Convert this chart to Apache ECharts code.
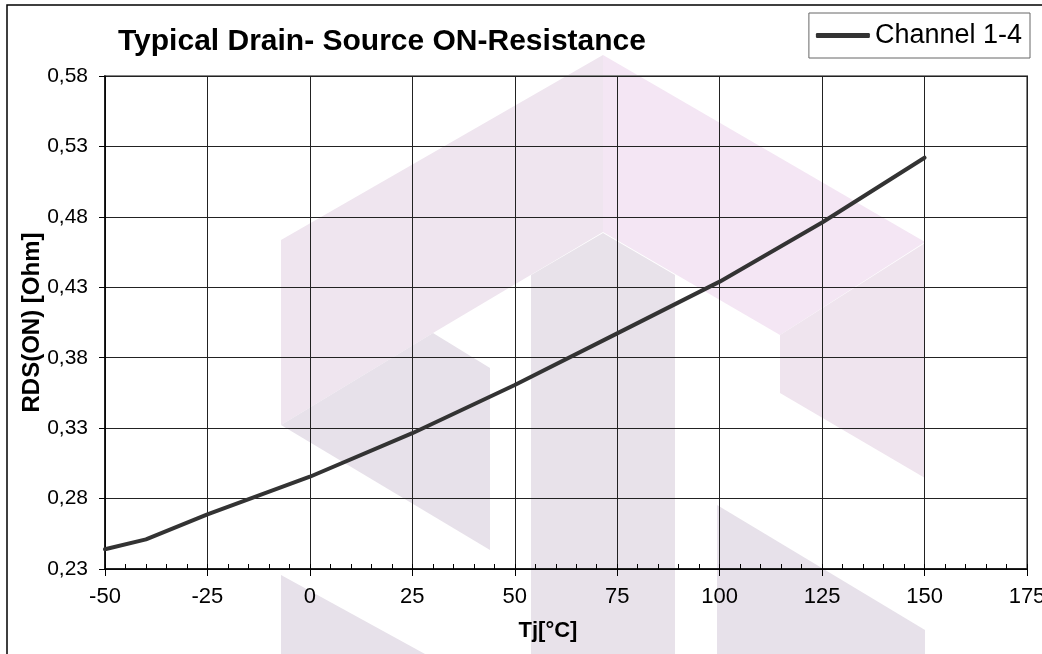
<!DOCTYPE html>
<html>
<head>
<meta charset="utf-8">
<title>Typical Drain- Source ON-Resistance</title>
<script src="https://cdn.jsdelivr.net/npm/echarts@6/dist/echarts.min.js"></script>
<style>
  html, body { margin: 0; padding: 0; background: #fff; }
  #chart { width: 1042px; height: 654px; }
</style>
</head>
<body>
<div id="chart"></div>
<script>
// junction temperature [°C] and on-resistance [Ohm]
var tempC = [-50, -40, -25, 0, 25, 50, 75, 100, 125, 150];
var rdsOn = [0.244, 0.251, 0.2688, 0.2955, 0.3264, 0.3606, 0.3973, 0.434, 0.476, 0.522];
var seriesName = 'Channel 1-4';

var font = "'Liberation Sans', Arial, sans-serif";

// faint logo watermark behind the plot (decoration only)
var wm = [
  { pts: [[281, 240], [603, 55], [603, 232], [433, 333], [281, 425]], color: '#efe5ef' },
  { pts: [[603, 55], [925, 242], [780, 335], [603, 232]], color: '#f4e6f4' },
  { pts: [[780, 335], [925, 243], [925, 478], [780, 393]], color: '#efe4ee' },
  { pts: [[281, 425], [433, 333], [490, 368], [490, 550]], color: '#e7e1ea' },
  { pts: [[531, 275], [603, 233], [675, 275], [675, 654], [531, 654]], color: '#e8e2ea' },
  { pts: [[281, 575], [425, 654], [281, 654]], color: '#e7e1ea' },
  { pts: [[717, 505], [925, 630], [925, 654], [717, 654]], color: '#e7e1ea' }
];

var graphics = wm.map(function (w) {
  return { type: 'polygon', z: -10, silent: true, shape: { points: w.pts }, style: { fill: w.color } };
});
graphics.push({
  type: 'rect', z: 50, silent: true,
  shape: { x: 7, y: 5, width: 1100, height: 700 },
  style: { fill: 'none', stroke: '#000', lineWidth: 1.5 }
});

var data = tempC.map(function (t, i) { return [t, rdsOn[i]]; });

var chart = echarts.init(document.getElementById('chart'));
chart.setOption({
  animation: false,
  backgroundColor: '#fff',
  graphic: graphics,
  title: {
    text: 'Typical Drain- Source ON-Resistance',
    left: 113, top: 22,
    textStyle: { fontFamily: font, fontSize: 30, fontWeight: 'bold', color: '#000' }
  },
  legend: {
    right: 12, top: 13,
    padding: [9, 8, 9, 7],
    borderColor: '#666', borderWidth: 1,
    itemWidth: 54, itemHeight: 5,
    icon: 'roundRect',
    textStyle: { fontFamily: font, fontSize: 27, color: '#000', lineHeight: 27 },
    data: [seriesName]
  },
  grid: {
    left: 105, right: 15, top: 76, bottom: 85,
    outerBoundsMode: 'none',
    containLabel: false,
    show: true, borderColor: '#858585', borderWidth: 2
  },
  xAxis: [{
    type: 'value',
    min: -50, max: 175, interval: 25,
    name: 'Tj[°C]', nameLocation: 'middle', nameGap: 51,
    nameTextStyle: { fontFamily: font, fontSize: 22, fontWeight: 'bold', color: '#000', padding: [0, 36, 0, 0] },
    axisLine: { show: true, onZero: false, lineStyle: { color: '#000', width: 1.5 } },
    axisTick: { show: true, inside: false, length: 7, lineStyle: { color: '#000' } },
    axisLabel: { fontFamily: font, fontSize: 22, color: '#000', margin: 17, hideOverlap: false },
    splitLine: { show: true, lineStyle: { color: '#222', width: 1 } }
  }, {
    // minor ticks every 5 °C pointing into the plot
    type: 'value', position: 'bottom',
    min: -50, max: 175, interval: 5,
    axisLine: { show: false, onZero: false },
    axisTick: { show: true, inside: true, length: 5, lineStyle: { color: '#000' } },
    axisLabel: { show: false },
    splitLine: { show: false }
  }],
  yAxis: {
    type: 'value',
    min: 0.23, max: 0.58, interval: 0.05,
    name: 'RDS(ON) [Ohm]', nameLocation: 'middle', nameGap: 61,
    nameMoveOverlap: false,
    nameTextStyle: { fontFamily: font, fontSize: 24, fontWeight: 'bold', color: '#000' },
    axisLine: { show: true, onZero: false, lineStyle: { color: '#000', width: 1.5 } },
    axisTick: { show: true, inside: false, length: 6, lineStyle: { color: '#000' } },
    axisLabel: {
      fontFamily: font, fontSize: 21, color: '#000', margin: 17,
      formatter: function (v) { return v.toFixed(2).replace('.', ','); }
    },
    splitLine: { show: true, lineStyle: { color: '#222', width: 1 } }
  },
  series: [{
    name: seriesName,
    type: 'line',
    xAxisIndex: 0,
    data: data,
    showSymbol: false,
    symbol: 'none',
    color: '#333',
    lineStyle: { color: '#333', width: 4, cap: 'round', join: 'round' },
    z: 5
  }]
});
</script>
</body>
</html>
